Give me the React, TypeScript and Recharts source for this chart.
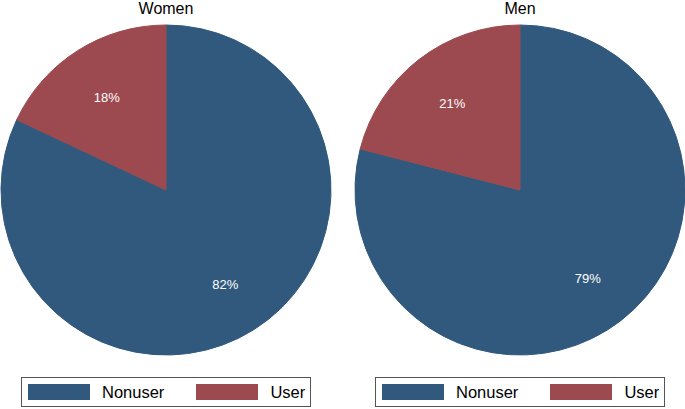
import { useEffect } from 'react';
import { PieChart, Pie, Cell } from 'recharts';

const GROUPS = ['Women', 'Men'];
const CATEGORIES = ['Nonuser', 'User'];
const WOMEN_VALUES = [82, 18];
const MEN_VALUES = [79, 21];
const COLORS = ['#31597d', '#9c4a50'];

const FONT = 'Arial, "Liberation Sans", Helvetica, sans-serif';
const RADIAN = Math.PI / 180;

function renderLabel(props: any) {
  const { cx, cy, midAngle, outerRadius, value } = props;
  const r = outerRadius * 0.67;
  const x = cx + r * Math.cos(-midAngle * RADIAN);
  const y = cy + r * Math.sin(-midAngle * RADIAN) + 1;
  return (
    <text
      x={x}
      y={y}
      fill="#ffffff"
      fontSize={13}
      fontFamily={FONT}
      textAnchor="middle"
      dominantBaseline="central"
    >
      {value}%
    </text>
  );
}

function Legend({ left }: { left: number }) {
  return (
    <div
      style={{
        position: 'absolute',
        left,
        top: 377,
        width: 290,
        height: 30,
        border: '1px solid #555',
        boxSizing: 'border-box',
        display: 'flex',
        alignItems: 'center',
        fontFamily: FONT,
        fontSize: 16.5,
        color: '#000',
      }}
    >
      {CATEGORIES.map((name, i) => (
        <div key={name} style={{ display: 'flex', alignItems: 'center', marginLeft: i === 0 ? 6 : 32 }}>
          <span style={{ width: 62, height: 16, background: COLORS[i], display: 'inline-block' }} />
          <span style={{ marginLeft: 12 }}>{name}</span>
        </div>
      ))}
    </div>
  );
}

export default function App() {
  useEffect(() => {
    document.body.style.margin = '0';
  }, []);

  const series = [WOMEN_VALUES, MEN_VALUES];
  const centers = [166, 520];

  return (
    <div style={{ position: 'relative', width: 685, height: 409, background: '#fff', overflow: 'hidden' }}>
      <PieChart
        width={685}
        height={370}
        margin={{ top: 0, right: 0, bottom: 0, left: 0 }}
        style={{ position: 'absolute', left: 0, top: 0 }}
      >
        {series.map((vals, g) => (
          <Pie
            key={GROUPS[g]}
            data={vals.map((v, i) => ({ name: CATEGORIES[i], value: v }))}
            dataKey="value"
            cx={centers[g]}
            cy={190}
            outerRadius={165}
            startAngle={90}
            endAngle={-270}
            label={renderLabel}
            labelLine={false}
            isAnimationActive={false}
          >
            {vals.map((_, i) => (
              <Cell key={i} fill={COLORS[i]} stroke={COLORS[i]} />
            ))}
          </Pie>
        ))}
      </PieChart>
      {GROUPS.map((title, g) => (
        <div
          key={title}
          style={{
            position: 'absolute',
            left: centers[g] - 100,
            width: 200,
            top: 0,
            textAlign: 'center',
            fontFamily: FONT,
            fontSize: 16,
            color: '#000',
          }}
        >
          {title}
        </div>
      ))}
      <Legend left={21} />
      <Legend left={375} />
    </div>
  );
}
